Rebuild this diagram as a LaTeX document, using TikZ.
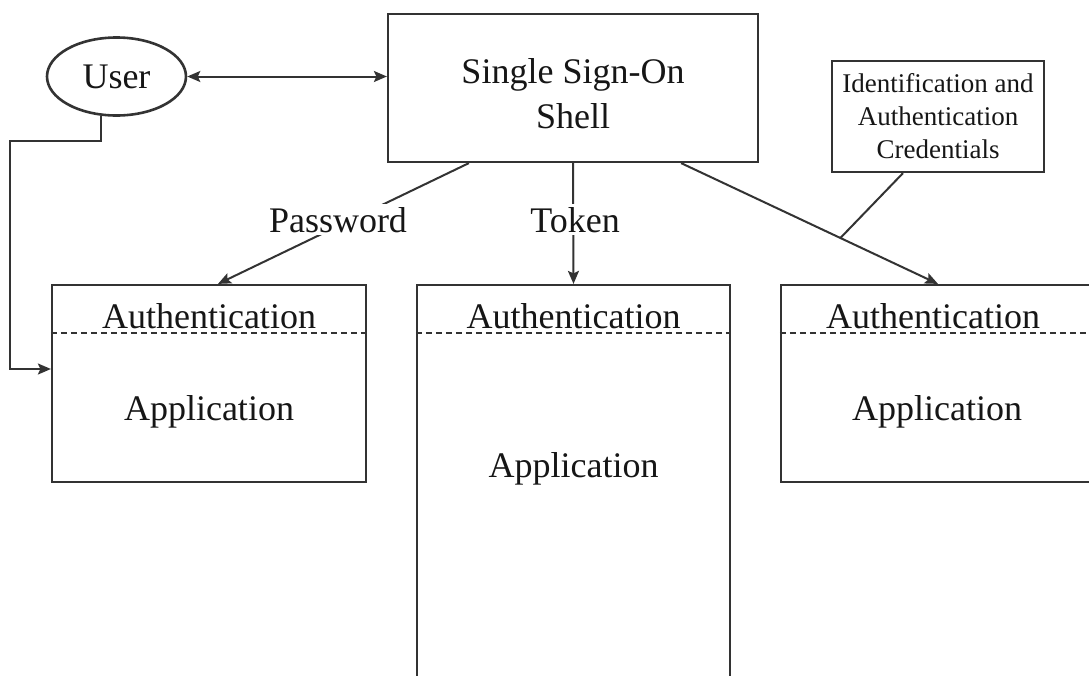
\documentclass[tikz,border=0pt]{standalone}
\usepackage{fontspec}
\setmainfont{Liberation Serif}
\usetikzlibrary{arrows.meta,calc,shapes.geometric}
\definecolor{ln}{HTML}{333333}
\definecolor{tx}{HTML}{161616}
\begin{document}
\begin{tikzpicture}[x=1pt,y=-1pt,
  box/.style={draw=ln, line width=2.2pt, fill=white, inner sep=0pt},
  txt/.style={text=tx, font=\fontsize{36}{45}\selectfont, inner sep=0pt},
  lbl/.style={text=tx, font=\fontsize{36}{45}\selectfont, fill=white, inner sep=3pt},
  tip/.tip={Stealth[length=13pt,width=11pt,inset=2.5pt]},
  arr/.style={draw=ln, line width=2pt, -tip},
  arrboth/.style={draw=ln, line width=2pt, tip-tip},
  conn/.style={draw=ln, line width=2pt},
  dashline/.style={draw=ln, line width=1.8pt, dash pattern=on 6pt off 4pt}]
\useasboundingbox (0,0) rectangle (1089,675);
\fill[white] (0,0) rectangle (1089,675);
\clip (0,0) rectangle (1089,675);

% nodes
\node[box, ellipse, line width=2.6pt, minimum width=139pt, minimum height=78pt, text=tx,
      font=\fontsize{36}{45}\selectfont] (user) at (116.5,76.5) {User};
\node[box, minimum width=370pt, minimum height=148pt] (sso) at (573,88) {};
\node[txt, align=center] (ssot) at (573,93.5) {Single Sign-On\\Shell};
\node[box, minimum width=212pt, minimum height=111pt, align=center, text=tx,
      font=\fontsize{27}{33}\selectfont] (cred) at (938,116.5)
      {Identification and\\Authentication\\Credentials};

\node[box, minimum width=314pt, minimum height=197pt] (app1) at (209,383.5) {};
\node[box, minimum width=313pt, minimum height=415pt] (app2) at (573.5,492.5) {};
\node[box, minimum width=314pt, minimum height=197pt] (app3) at (938,383.5) {};

\draw[dashline] ($(app1.north west)+(0,49)$) -- ($(app1.north east)+(0,49)$);
\draw[dashline] ($(app2.north west)+(0,49)$) -- ($(app2.north east)+(0,49)$);
\draw[dashline] ($(app3.north west)+(0,49)$) -- ($(app3.north east)+(0,49)$);

\node[txt, anchor=base] (au1) at (209,328) {Authentication};
\node[txt, anchor=base] (ap1) at (209,420) {Application};
\node[txt, anchor=base] (au2) at (573.5,328) {Authentication};
\node[txt, anchor=base] (ap2) at (573.5,477) {Application};
\node[txt, anchor=base] (au3) at (933,328) {Authentication};
\node[txt, anchor=base] (ap3) at (937,420) {Application};

% connectors
\draw[arrboth] (user.east) -- (user.east -| sso.west);
\coordinate (c1) at (10,141);
\coordinate (c2) at (10,369);
\draw[arr] (user.249) |- (c1) -- (c2) -- (c2 -| app1.west);

\draw[arr] ($(sso.south west)+(82,0)$) -- ($(app1.north)+(9,0)$);
\draw[arr] (sso.south) -- (app2.north);
\draw[arr] ($(sso.south east)+(-78,0)$) -- coordinate[pos=0.62] (hit) (app3.north);
\draw[conn] ($(cred.south)+(-35,0)$) -- (hit);

\node[lbl, anchor=base] (pw) at (338,232) {Password};
\node[lbl, anchor=base] (tk) at (575,232) {Token};
\end{tikzpicture}
\end{document}
